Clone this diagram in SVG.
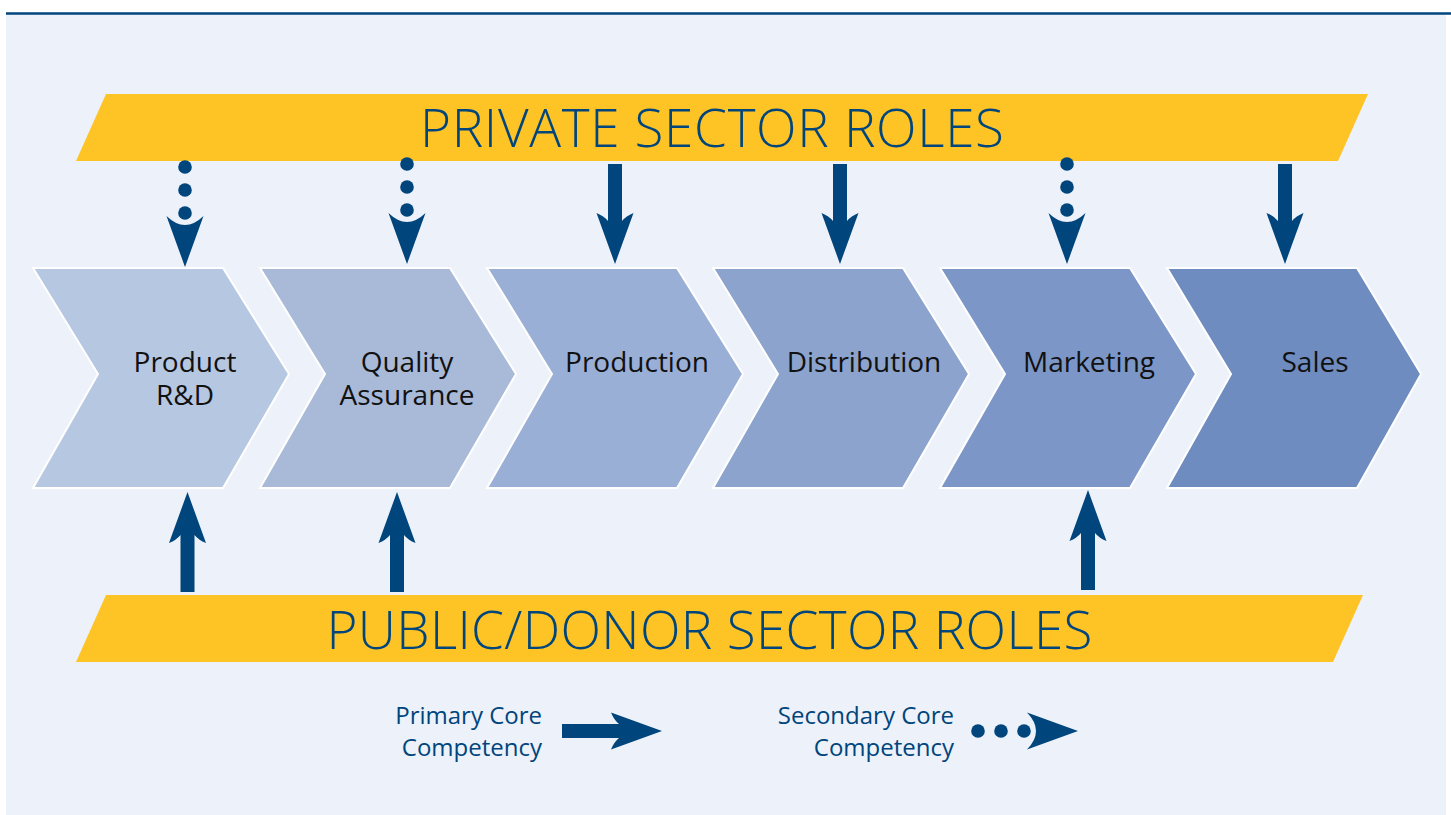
<svg xmlns="http://www.w3.org/2000/svg" xmlns:xlink="http://www.w3.org/1999/xlink" width="1451" height="815" viewBox="0 0 1451 815">
  <style>
    .banner { fill: #FEC325; }
    .bannerText { font-family: "Open Sans", "Noto Sans", "Liberation Sans", sans-serif; font-size: 53px; font-weight: 300; fill: #00457C; text-anchor: middle; }
    .chev { stroke: #FFFFFF; stroke-width: 2; stroke-linejoin: miter; }
    .label { font-family: "Open Sans", "Noto Sans", "Liberation Sans", sans-serif; font-size: 28px; fill: #111111; text-anchor: middle; }
    .legend { font-family: "Open Sans", "Noto Sans", "Liberation Sans", sans-serif; font-size: 24px; fill: #00457C; text-anchor: end; }
    .arr { fill: #00457C; }
  </style>
  <defs>
    <!-- solid arrow: origin at shaft start, points toward +y, length 100 -->
    <path id="solidArrow" d="M -7,0 H 7 V 57 Q 11,52 18.5,49 L 0,100 L -18.5,49 Q -11,52 -7,57 Z"/>
    <!-- dotted arrow: origin at first dot, points toward +y, length 100 -->
    <g id="dottedArrow">
      <circle cx="0" cy="0" r="6.8"/>
      <circle cx="0" cy="23" r="6.8"/>
      <circle cx="0" cy="46" r="6.8"/>
      <path d="M 18.5,49 L 0,100 L -18.5,49 Q 0,67 18.5,49 Z"/>
    </g>
  </defs>

  <rect x="0" y="0" width="1451" height="815" fill="#FFFFFF"/>
  <rect x="6" y="14" width="1440" height="801" fill="#EDF1F9"/>
  <line x1="6" y1="13.5" x2="1451" y2="13.5" stroke="#00457C" stroke-width="2.5"/>

  <g id="private-banner">
    <polygon class="banner" points="106,94 1368,94 1338,161 76,161"/>
    <text class="bannerText" x="712" y="147" textLength="584" lengthAdjust="spacing">PRIVATE SECTOR ROLES</text>
  </g>

  <g id="public-banner">
    <polygon class="banner" points="106,595 1363,595 1333,662 76,662"/>
    <text class="bannerText" x="709.5" y="649" textLength="766" lengthAdjust="spacing">PUBLIC/DONOR SECTOR ROLES</text>
  </g>

  <g id="node-product-rd">
    <path class="chev" fill="#B6C7E2" d="M 33,268 H 223 L 289,374 L 223,488 H 33 L 98,374 Z"/>
    <text class="label" x="185" y="372">Product<tspan x="185" dy="33">R&amp;D</tspan></text>
  </g>
  <g id="node-quality-assurance">
    <path class="chev" fill="#A8BAD8" d="M 260,268 H 450 L 516,374 L 450,488 H 260 L 325,374 Z"/>
    <text class="label" x="407" y="372">Quality<tspan x="407" dy="33">Assurance</tspan></text>
  </g>
  <g id="node-production">
    <path class="chev" fill="#9AAFD5" d="M 487,268 H 677 L 743,374 L 677,488 H 487 L 552,374 Z"/>
    <text class="label" x="637" y="372">Production</text>
  </g>
  <g id="node-distribution">
    <path class="chev" fill="#8BA3CD" d="M 713,268 H 903 L 969,374 L 903,488 H 713 L 778,374 Z"/>
    <text class="label" x="864" y="372">Distribution</text>
  </g>
  <g id="node-marketing">
    <path class="chev" fill="#7C97C7" d="M 940,268 H 1130 L 1196,374 L 1130,488 H 940 L 1005,374 Z"/>
    <text class="label" x="1089" y="372">Marketing</text>
  </g>
  <g id="node-sales">
    <path class="chev" fill="#6E8CC0" d="M 1167,268 H 1357 L 1421,374 L 1357,488 H 1167 L 1231,374 Z"/>
    <text class="label" x="1315" y="372">Sales</text>
  </g>

  <g id="connectors" class="arr">
    <!-- private sector to chain -->
    <use xlink:href="#dottedArrow" href="#dottedArrow" transform="translate(185,167)"/>
    <use xlink:href="#dottedArrow" href="#dottedArrow" transform="translate(407,164)"/>
    <use xlink:href="#solidArrow" href="#solidArrow" transform="translate(615,164)"/>
    <use xlink:href="#solidArrow" href="#solidArrow" transform="translate(840,164)"/>
    <use xlink:href="#dottedArrow" href="#dottedArrow" transform="translate(1067,164)"/>
    <use xlink:href="#solidArrow" href="#solidArrow" transform="translate(1285,164)"/>
    <!-- public/donor sector to chain -->
    <use xlink:href="#solidArrow" href="#solidArrow" transform="translate(187.5,592) rotate(180)"/>
    <use xlink:href="#solidArrow" href="#solidArrow" transform="translate(397,592) rotate(180)"/>
    <use xlink:href="#solidArrow" href="#solidArrow" transform="translate(1088,590) rotate(180)"/>
  </g>

  <g id="legend">
    <text class="legend" x="542" y="724">Primary Core<tspan x="542" dy="32">Competency</tspan></text>
    <use class="arr" xlink:href="#solidArrow" href="#solidArrow" transform="translate(562,731) rotate(-90)"/>
    <text class="legend" x="954" y="724">Secondary Core<tspan x="954" dy="32">Competency</tspan></text>
    <use class="arr" xlink:href="#dottedArrow" href="#dottedArrow" transform="translate(978,731) rotate(-90)"/>
  </g>
</svg>
